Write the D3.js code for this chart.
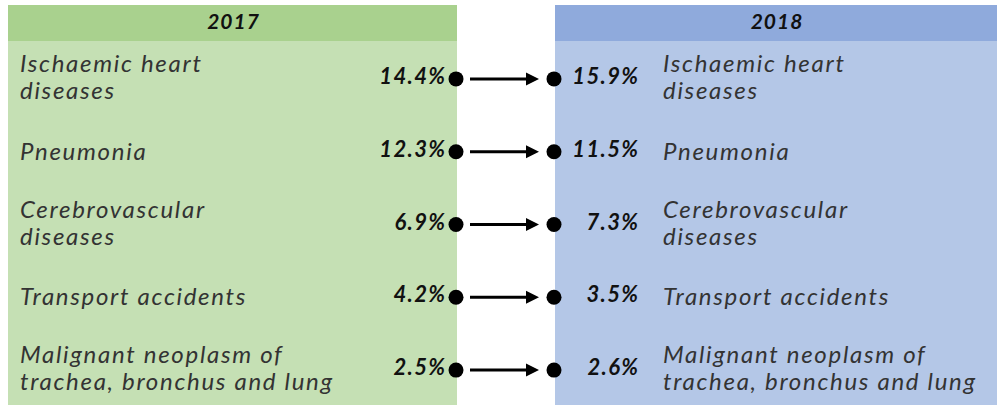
<!DOCTYPE html>
<html>
  <head>
    <meta charset="utf-8" />
    <title>Leading causes of death 2017 vs 2018</title>
    <script src="https://d3js.org/d3.v7.min.js"></script>
    <style>
      body { margin: 0; background: #fff; }
      svg text { font-family: Lato, "Open Sans", sans-serif; font-style: italic; }
      .label { font-size: 24px; font-weight: 400; fill: #333; letter-spacing: 1.7px; }
      .value { font-size: 22px; font-weight: 700; fill: #111; letter-spacing: 1.4px; }
      .head { font-size: 21px; font-weight: 700; fill: #111; letter-spacing: 1px; }
    </style>
  </head>
  <body>
    <svg width="998" height="405"></svg>
    <script>
      // data
      const years = ["2017", "2018"];
      const causes = [
        "Ischaemic heart\ndiseases",
        "Pneumonia",
        "Cerebrovascular\ndiseases",
        "Transport accidents",
        "Malignant neoplasm of\ntrachea, bronchus and lung"
      ];
      const values2017 = [14.4, 12.3, 6.9, 4.2, 2.5];
      const values2018 = [15.9, 11.5, 7.3, 3.5, 2.6];

      const svg = d3.select("svg"),
            width = +svg.attr("width"),
            height = +svg.attr("height");

      const headerH = 41;
      const panels = [
        { year: years[0], x0: 8, x1: 457, head: "#a9d18e", body: "#c5e0b4" },
        { year: years[1], x0: 555, x1: 997, head: "#8faadc", body: "#b4c7e7" }
      ];

      // row positions
      const y = d3.scaleBand()
                  .domain(causes)
                  .range([headerH + 1.5, height + 1.5]);
      const cy = d => y(d) + y.bandwidth() / 2;

      panels.forEach(p => {
        svg.append("rect")
           .attr("x", p.x0).attr("y", 5)
           .attr("width", p.x1 - p.x0).attr("height", headerH - 5)
           .attr("fill", p.head);
        svg.append("rect")
           .attr("x", p.x0).attr("y", headerH)
           .attr("width", p.x1 - p.x0).attr("height", height - headerH)
           .attr("fill", p.body);
        svg.append("text")
           .attr("class", "head")
           .attr("x", (p.x0 + p.x1) / 2 + 1)
           .attr("y", 29)
           .attr("text-anchor", "middle")
           .text(p.year);
      });

      const rows = causes.map((c, i) => ({ cause: c, v17: values2017[i], v18: values2018[i] }));

      const row = svg.selectAll(".row")
                     .data(rows)
                     .enter().append("g")
                     .attr("class", "row")
                     .attr("transform", d => "translate(0," + cy(d.cause) + ")");

      // labels on both sides
      function addLabel(sel, x) {
        sel.each(function(d) {
          const lines = d.cause.split("\n");
          const t = d3.select(this).append("text")
                      .attr("class", "label")
                      .attr("x", x);
          if (lines.length === 1) {
            t.attr("y", 8).text(lines[0]);
          } else {
            lines.forEach((l, j) => {
              t.append("tspan").attr("x", x).attr("y", j === 0 ? -7 : 20).text(l);
            });
          }
        });
      }
      addLabel(row, 20);
      addLabel(row, 663);

      row.append("text")
         .attr("class", "value")
         .attr("x", 446.5)
         .attr("y", 5)
         .attr("text-anchor", "end")
         .text(d => d.v17.toFixed(1) + "%");

      row.append("text")
         .attr("class", "value")
         .attr("x", 639.5)
         .attr("y", 5)
         .attr("text-anchor", "end")
         .text(d => d.v18.toFixed(1) + "%");

      row.append("circle").attr("cx", 456).attr("cy", 0).attr("r", 7.5).attr("fill", "#000");
      row.append("circle").attr("cx", 554).attr("cy", 0).attr("r", 7.5).attr("fill", "#000");

      row.append("line")
         .attr("x1", 470).attr("x2", 528)
         .attr("y1", 0).attr("y2", 0)
         .attr("stroke", "#000").attr("stroke-width", 3);
      row.append("path")
         .attr("d", "M526,-6.5L539,0L526,6.5Z")
         .attr("fill", "#000");
    </script>
  </body>
</html>
